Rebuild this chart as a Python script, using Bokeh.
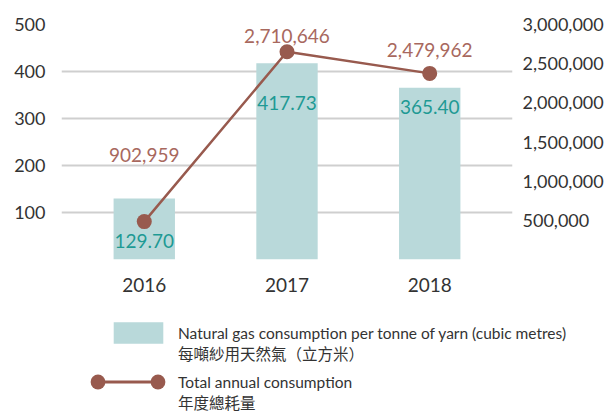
from bokeh.plotting import figure
from bokeh.models import (ColumnDataSource, Range1d, LinearAxis, FactorRange, Legend,
                          LegendItem, FixedTicker, NumeralTickFormatter)
from bokeh.embed import file_html
from bokeh.resources import INLINE
from bokeh.core.properties import value

# ---- data ----
years = ["2016", "2017", "2018"]
per_tonne = [129.70, 417.73, 365.40]
per_tonne_labels = ["129.70", "417.73", "365.40"]
total = [902959, 2710646, 2479962]
total_labels = ["902,959", "2,710,646", "2,479,962"]
left_ticks = [100, 200, 300, 400, 500]
grid_ticks = [0, 100, 200, 300, 400, 500]
right_ticks = [500000, 1000000, 1500000, 2000000, 2500000, 3000000]
bar_legend_en = "Natural gas consumption per tonne of yarn (cubic metres)"
bar_legend_zh = "每噸紗用天然氣（立方米）"
line_legend_en = "Total annual consumption"
line_legend_zh = "年度總耗量"

# ---- styles ----
bar_label_dy = [42, 40, 19]
total_label_dy = [-67, -16, -23]
BAR = "#b9d9da"
LINE = "#985a4e"
LINE_TXT = "#a8685e"
TEAL = "#1e9a94"
TXT = "#333333"
GRID = "#cfcfcf"
FONT = "Lato"
CJK = "Lato, 'Noto Sans CJK TC'"
W = 606

src = ColumnDataSource(dict(
    year=years, per_tonne=per_tonne, per_tonne_label=per_tonne_labels,
    total=total, total_label=total_labels,
    bar_dy=bar_label_dy, total_dy=total_label_dy,
))

p = figure(width=W, height=300, output_backend="svg", toolbar_location=None,
           x_range=FactorRange(*years, range_padding=0.0533, range_padding_units="percent"),
           y_range=Range1d(0, 500),
           min_border_left=61, min_border_right=93, min_border_top=24, min_border_bottom=41)
p.outline_line_color = None
p.background_fill_color = "white"
p.border_fill_color = "white"

p.extra_y_ranges = {"axis_r": Range1d(0, 3000000), "total": Range1d(500000, 3000000)}

bar_r = p.vbar(x="year", top="per_tonne", width=0.43, source=src,
               fill_color=BAR, line_color=None)
line_r = p.line(x="year", y="total", source=src, y_range_name="total",
                line_color=LINE, line_width=2.5)
dot_r = p.scatter(x="year", y="total", source=src, y_range_name="total",
                  size=15, fill_color=LINE, line_color=None)

p.text(x="year", y="per_tonne", text="per_tonne_label", source=src, y_offset="bar_dy",
       text_align="center", text_baseline="middle", text_color=TEAL,
       text_font=value(FONT), text_font_size="19px")
p.text(x="year", y="total", text="total_label", source=src, y_range_name="total",
       y_offset="total_dy", text_align="center", text_baseline="middle",
       text_color=LINE_TXT, text_font=value(FONT), text_font_size="19px")

# axes
p.xgrid.visible = False
p.ygrid.ticker = FixedTicker(ticks=grid_ticks)
p.ygrid.grid_line_color = GRID
p.ygrid.grid_line_width = 2

ya = p.yaxis[0]
ya.ticker = FixedTicker(ticks=left_ticks)
ya.axis_line_color = None
ya.major_tick_line_color = None
ya.minor_tick_line_color = None
ya.major_label_text_font = FONT
ya.major_label_text_font_size = "18px"
ya.major_label_text_color = TXT
ya.major_label_standoff = 10

xa = p.xaxis[0]
xa.axis_line_color = None
xa.major_tick_line_color = None
xa.minor_tick_line_color = None
xa.major_label_text_font = FONT
xa.major_label_text_font_size = "19px"
xa.major_label_text_color = TXT
xa.major_label_standoff = 12

ra = LinearAxis(y_range_name="axis_r", ticker=FixedTicker(ticks=right_ticks),
                formatter=NumeralTickFormatter(format="0,0"))
ra.axis_line_color = None
ra.major_tick_line_color = None
ra.minor_tick_line_color = None
ra.major_label_text_font = FONT
ra.major_label_text_font_size = "18px"
ra.major_label_text_color = TXT
ra.major_label_standoff = 4
p.add_layout(ra, "right")

# ---- legend panel (separate root, so its frame spans the full width) ----
q = figure(width=W, height=111, output_backend="svg", toolbar_location=None,
           x_range=Range1d(0, 1), y_range=Range1d(0, 1),
           min_border=0, min_border_left=0, min_border_right=0,
           min_border_top=0, min_border_bottom=0)
q.axis.visible = False
q.grid.visible = False
q.outline_line_color = None
q.border_fill_color = "white"

# hidden key renderers, used only to draw the legend swatches
key_src = ColumnDataSource(dict(x=[0.5], y=[0.5]))
key_bar = q.vbar(x="x", top="y", width=0.1, source=key_src, fill_color=BAR,
                 line_color=None, visible=False)
key_line = q.line(x="x", y="y", source=key_src, line_color=LINE, line_width=3,
                  visible=False)
key_dot = q.scatter(x="x", y="y", source=key_src, size=15, fill_color=LINE,
                    line_color=None, visible=False)
key_blank = q.scatter(x="x", y="y", source=key_src, size=1, fill_alpha=0,
                      line_alpha=0, visible=False)


def make_legend(label, renderers, loc, gw, gh, standoff):
    lg = Legend(items=[LegendItem(label=label, renderers=renderers)], location=loc,
                orientation="vertical",
                glyph_width=gw, glyph_height=gh, label_standoff=standoff,
                padding=0, margin=0, spacing=0, border_line_color=None,
                background_fill_alpha=0, label_text_font=CJK,
                label_text_font_size="15.5px", label_text_color=TXT,
                label_text_line_height=1.25, click_policy="none",
                inactive_fill_alpha=0)
    q.add_layout(lg, "center")
    return lg


make_legend(bar_legend_en, [key_bar], (107, 65), 62, 27, 9)
make_legend(bar_legend_zh, [key_blank], (177, 47), 1, 1, 0)
make_legend(line_legend_en, [key_line], (97, 11), 60, 37, 21)
make_legend("", [key_dot], (78.5, 11), 37, 37, 0)
make_legend("", [key_dot], (138.5, 11), 37, 37, 0)
make_legend(line_legend_zh, [key_blank], (177, -2), 1, 1, 0)

open("out.html", "w").write(file_html([p, q], INLINE))
